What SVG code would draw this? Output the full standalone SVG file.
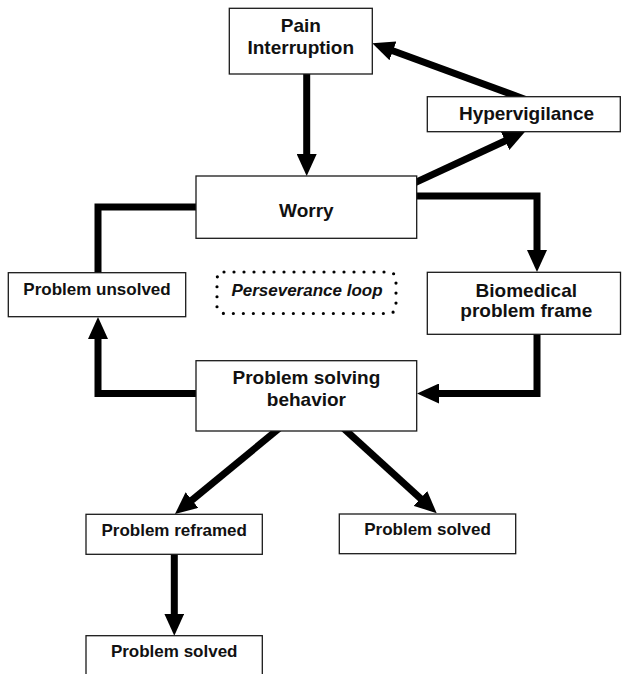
<svg xmlns="http://www.w3.org/2000/svg" width="622" height="674" viewBox="0 0 622 674">
<defs>
<style>
.box{fill:#fff;stroke:#1a1a1a;stroke-width:1.3}
.c{fill:none;stroke:#000;stroke-width:7;stroke-linejoin:miter;stroke-linecap:butt}
.t{font-family:"Liberation Sans",Arial,Helvetica,sans-serif;font-weight:bold;fill:#111;text-anchor:middle}
.L{font-size:19px}
.S{font-size:17px}
.dot{fill:none;stroke:#000;stroke-width:3.2;stroke-linecap:round;stroke-dasharray:0 10}
</style>
<marker id="ah" viewBox="0 0 22 20" refX="1" refY="10" markerWidth="22" markerHeight="20" markerUnits="userSpaceOnUse" orient="auto">
<path d="M0,0 L22,10 L0,20 z" fill="#000"/>
</marker>
</defs>
<rect width="622" height="674" fill="#fff"/>
<g id="connectors">
<path class="c" d="M306.7,70 V155" marker-end="url(#ah)"/>
<path class="c" d="M525.5,99.5 L392,50.5" marker-end="url(#ah)"/>
<path class="c" d="M407.6,186.2 L506,140.5" marker-end="url(#ah)"/>
<path class="c" d="M410,196 H537 V251" marker-end="url(#ah)"/>
<path class="c" d="M537,330 V393.5 H438" marker-end="url(#ah)"/>
<path class="c" d="M200,393.5 H98 V338" marker-end="url(#ah)"/>
<path class="c" d="M200,207 H98 V276"/>
<path class="c" d="M282.2,425.9 L191.2,500.7" marker-end="url(#ah)"/>
<path class="c" d="M340.6,425.6 L421.2,499.1" marker-end="url(#ah)"/>
<path class="c" d="M174.3,550 V614.7" marker-end="url(#ah)"/>
</g>
<g id="pain">
<rect class="box" x="229.3" y="8.3" width="143" height="65.7"/>
<text class="t L" x="300.8" y="32">Pain</text>
<text class="t L" x="300.8" y="53.5">Interruption</text>
</g>
<g id="hypervigilance">
<rect class="box" x="427.3" y="96.7" width="193" height="35"/>
<text class="t L" x="526.5" y="119.5">Hypervigilance</text>
</g>
<g id="worry">
<rect class="box" x="196" y="176" width="220.7" height="62.3"/>
<text class="t L" x="306.4" y="216.5">Worry</text>
</g>
<g id="unsolved">
<rect class="box" x="8.3" y="272.7" width="177.4" height="44"/>
<text class="t S" x="97" y="294.5">Problem unsolved</text>
</g>
<g id="loop">
<rect class="dot" x="217" y="272" width="179" height="41.5" rx="7"/>
<text class="t S" x="307" y="295.5" font-style="italic">Perseverance loop</text>
</g>
<g id="biomedical">
<rect class="box" x="427.3" y="272.3" width="193.2" height="62"/>
<text class="t L" x="526.3" y="296.5">Biomedical</text>
<text class="t L" x="526.3" y="317">problem frame</text>
</g>
<g id="solving">
<rect class="box" x="196" y="360.7" width="220.7" height="70.3"/>
<text class="t L" x="306.4" y="383.5">Problem solving</text>
<text class="t L" x="306.4" y="405.5">behavior</text>
</g>
<g id="reframed">
<rect class="box" x="86" y="514.3" width="176.3" height="40"/>
<text class="t S" x="174.2" y="536">Problem reframed</text>
</g>
<g id="solved1">
<rect class="box" x="339.3" y="514" width="176.4" height="39.7"/>
<text class="t S" x="427.5" y="535">Problem solved</text>
</g>
<g id="solved2">
<rect class="box" x="86" y="635.7" width="176.3" height="45"/>
<text class="t S" x="174.2" y="657">Problem solved</text>
</g>
</svg>
